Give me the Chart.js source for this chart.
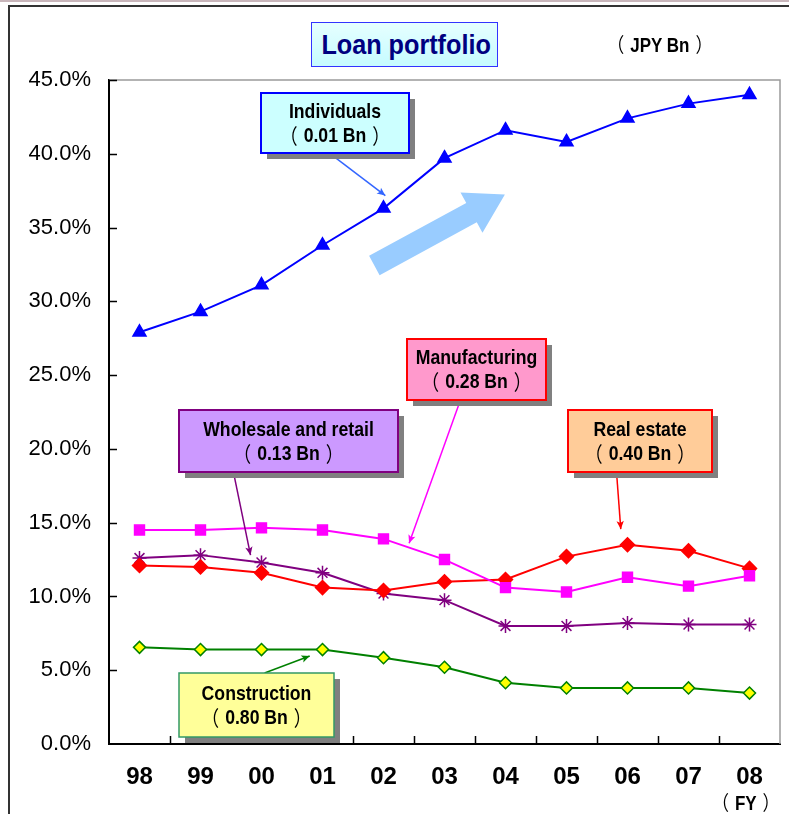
<!DOCTYPE html>
<html>
<head>
<meta charset="utf-8">
<title>Loan portfolio</title>
<script src="https://cdn.jsdelivr.net/npm/chart.js@4/dist/chart.umd.min.js"></script>
<style>
  html, body { margin: 0; padding: 0; background: #ffffff; }
  #wrap { position: relative; width: 789px; height: 814px; overflow: hidden; }
  #topline { position: absolute; left: 0; top: 0; width: 789px; height: 2px; background: #c9b6bb; }
  #frame { position: absolute; left: 8px; top: 5px; width: 800px; height: 820px;
           border-top: 2px solid #333333; border-left: 2px solid #333333; }
  #chart { position: absolute; left: 0; top: 0; }
  .txt { position: absolute; font-family: "Liberation Sans", Arial, "Noto Sans CJK JP", sans-serif;
         font-weight: bold; white-space: nowrap; }
  .squeeze { display: inline-block; transform-origin: center center; }
  .po, .pc { font-family: "Noto Sans CJK JP", sans-serif; font-weight: normal; }
  .po { margin-left: -6px; margin-right: 7px; }
  .pc { margin-left: 7px; margin-right: -6px; }
  #title { left: 311px; top: 22px; width: 185px; height: 43px; line-height: 43px; text-align: center;
           font-size: 28px; color: #000080; border: 1.5px solid #3333ff;
           background: linear-gradient(to bottom, #e6ffff, #c6fbff); }
  #title .squeeze { transform: scaleX(0.9); }
  #unit { left: 600px; top: 31px; width: 120px; height: 26px; line-height: 26px; text-align: center; font-size: 20px; color: #000; }
  #unit .squeeze { transform: scaleX(0.85); }
  #fy { left: 706px; top: 789px; width: 80px; height: 26px; line-height: 26px; text-align: center; font-size: 20px; color: #000; }
  #fy .squeeze { transform: scaleX(0.85); }
</style>
</head>
<body>
<div id="wrap">
  <div id="topline"></div>
  <div id="frame"></div>
  <canvas id="chart" width="789" height="814"></canvas>
  <div class="txt" id="title"><span class="squeeze">Loan portfolio</span></div>
  <div class="txt" id="unit"><span class="squeeze"><span class="po">（</span>JPY Bn<span class="pc">）</span></span></div>
  <div class="txt" id="fy"><span class="squeeze"><span class="po">（</span>FY<span class="pc">）</span></span></div>
</div>
<script>
// Fiscal years on the category axis
const years = ['98', '99', '00', '01', '02', '03', '04', '05', '06', '07', '08'];

// Share of the loan portfolio by borrower type (%)
const individuals     = [27.9, 29.3, 31.1, 33.8, 36.3, 39.7, 41.6, 40.8, 42.4, 43.4, 44.0];
const manufacturing   = [14.5, 14.5, 14.65, 14.5, 13.9, 12.5, 10.6, 10.3, 11.3, 10.7, 11.4];
const realEstate      = [12.1, 12.0, 11.6, 10.6, 10.4, 11.0, 11.15, 12.7, 13.5, 13.1, 11.9];
const wholesaleRetail = [12.6, 12.8, 12.3, 11.6, 10.2, 9.75, 8.0, 8.0, 8.2, 8.1, 8.1];
const construction    = [6.55, 6.4, 6.4, 6.4, 5.85, 5.2, 4.15, 3.8, 3.8, 3.8, 3.45];

// Value axis range
const yMin = 0, yMax = 45, yStep = 5;

// Callout box texts
const calloutLines = {
  individuals:   ['Individuals', '（0.01 Bn）'],
  manufacturing: ['Manufacturing', '（0.28 Bn）'],
  wholesale:     ['Wholesale and retail', '（0.13 Bn）'],
  realEstate:    ['Real estate', '（0.40 Bn）'],
  construction:  ['Construction', '（0.80 Bn）']
};

const SANS = '"Liberation Sans", Arial, "Noto Sans CJK JP", sans-serif';
const CJK = '"Noto Sans CJK JP", sans-serif';

// Callouts anchored in data space (category index, %), sizes in px
const callouts = [
  { lines: calloutLines.individuals, cx: 3.21, cy: 42.11, w: 148, h: 60, fill: '#ccffff', stroke: '#0000ff', lw: 2,
    arrow: { from: [3.21, 39.74], to: [4.03, 37.17], color: '#3366ff' } },
  { lines: calloutLines.manufacturing, cx: 5.53, cy: 25.36, w: 139, h: 61, fill: '#ff99cc', stroke: '#ff0000', lw: 2,
    arrow: { from: [5.26, 23.29], to: [4.42, 13.61], color: '#ff00ff' } },
  { lines: calloutLines.wholesale, cx: 2.44, cy: 20.51, w: 219, h: 62, fill: '#cc99ff', stroke: '#800080', lw: 2,
    arrow: { from: [1.54, 18.42], to: [1.82, 12.80], color: '#800080' } },
  { lines: calloutLines.realEstate, cx: 8.21, cy: 20.51, w: 144, h: 62, fill: '#ffcc99', stroke: '#ff0000', lw: 2,
    arrow: { from: [7.82, 18.42], to: [7.89, 14.56], color: '#ff0000' } },
  { lines: calloutLines.construction, cx: 1.92, cy: 2.64, w: 155, h: 64, fill: '#ffff99', stroke: '#339966', lw: 1.5,
    arrow: { from: [2.05, 4.81], to: [2.79, 5.96], color: '#008000' } }
];

// Broad trend arrow beside the individuals line
const trendArrow = { from: [3.85, 32.43], to: [5.99, 37.24], color: '#99ccff' };

function drawArrowLine(ctx, x1, y1, x2, y2, color) {
  const ang = Math.atan2(y2 - y1, x2 - x1);
  const head = 9, spread = 0.42;
  ctx.save();
  ctx.strokeStyle = color;
  ctx.lineWidth = 1.5;
  ctx.beginPath();
  ctx.moveTo(x1, y1);
  ctx.lineTo(x2, y2);
  ctx.stroke();
  ctx.fillStyle = color;
  ctx.beginPath();
  ctx.moveTo(x2, y2);
  ctx.lineTo(x2 - head * Math.cos(ang - spread), y2 - head * Math.sin(ang - spread));
  ctx.lineTo(x2 - head * 0.7 * Math.cos(ang), y2 - head * 0.7 * Math.sin(ang));
  ctx.lineTo(x2 - head * Math.cos(ang + spread), y2 - head * Math.sin(ang + spread));
  ctx.closePath();
  ctx.fill();
  ctx.restore();
}

// Centered text with a horizontal squeeze for a narrow gothic look;
// full-width brackets are set in the CJK face with a little room around the enclosed text
function squeezedText(ctx, text, x, y, sx, size) {
  ctx.save();
  ctx.translate(x, y);
  ctx.scale(sx, 1);
  ctx.textBaseline = 'middle';
  ctx.font = 'bold ' + size + 'px ' + SANS;
  if (text.startsWith('（') && text.endsWith('）')) {
    const inner = text.slice(1, -1);
    const half = ctx.measureText(inner).width / 2;
    const gap = 7;
    ctx.textAlign = 'center';
    ctx.fillText(inner, 0, 0);
    ctx.font = size + 'px ' + CJK;
    const pw = ctx.measureText('（').width;
    ctx.textAlign = 'left';
    ctx.fillText('（', -half - pw - gap, 0);
    ctx.fillText('）', half + gap, 0);
  } else {
    ctx.textAlign = 'center';
    ctx.fillText(text, 0, 0);
  }
  ctx.restore();
}

const decorations = {
  id: 'decorations',
  beforeDatasetsDraw(chart) {
    const { ctx, chartArea: a, scales: { x, y } } = chart;
    ctx.save();
    // light frame on the top and right of the plot area
    ctx.strokeStyle = '#9a9a9a';
    ctx.lineWidth = 1.5;
    ctx.beginPath();
    ctx.moveTo(a.left, a.top);
    ctx.lineTo(a.right, a.top);
    ctx.lineTo(a.right, a.bottom);
    ctx.stroke();
    // inward tick marks
    ctx.strokeStyle = '#000000';
    ctx.lineWidth = 1.5;
    ctx.beginPath();
    for (let v = yMin + yStep; v <= yMax; v += yStep) {
      const py = Math.round(y.getPixelForValue(v)) + 0.5;
      ctx.moveTo(a.left, py);
      ctx.lineTo(a.left + 8, py);
    }
    for (let i = 0; i < years.length - 1; i++) {
      const px = Math.round((x.getPixelForValue(i) + x.getPixelForValue(i + 1)) / 2) + 0.5;
      ctx.moveTo(px, a.bottom);
      ctx.lineTo(px, a.bottom - 8);
    }
    ctx.stroke();
    ctx.restore();
  },
  afterDatasetsDraw(chart) {
    const { ctx, scales: { x, y } } = chart;
    const P = (pt) => [x.getPixelForValue(pt[0]), y.getPixelForValue(pt[1])];

    // trend arrow
    {
      const [x1, y1] = P(trendArrow.from);
      const [x2, y2] = P(trendArrow.to);
      const ang = Math.atan2(y2 - y1, x2 - x1);
      const len = Math.hypot(x2 - x1, y2 - y1);
      const shaft = 11, headLen = 38, headHalf = 23;
      ctx.save();
      ctx.translate(x1, y1);
      ctx.rotate(ang);
      ctx.fillStyle = trendArrow.color;
      ctx.beginPath();
      ctx.moveTo(0, -shaft);
      ctx.lineTo(len - headLen, -shaft);
      ctx.lineTo(len - headLen, -headHalf);
      ctx.lineTo(len, 0);
      ctx.lineTo(len - headLen, headHalf);
      ctx.lineTo(len - headLen, shaft);
      ctx.lineTo(0, shaft);
      ctx.closePath();
      ctx.fill();
      ctx.restore();
    }

    // callouts
    callouts.forEach(c => {
      const [a1, b1] = P(c.arrow.from);
      const [a2, b2] = P(c.arrow.to);
      drawArrowLine(ctx, a1, b1, a2, b2, c.arrow.color);

      const [cx, cy] = P([c.cx, c.cy]);
      const left = Math.round(cx - c.w / 2), top = Math.round(cy - c.h / 2);
      ctx.save();
      ctx.fillStyle = '#808080';
      ctx.fillRect(left + 6, top + 6, c.w, c.h);
      ctx.fillStyle = c.fill;
      ctx.fillRect(left, top, c.w, c.h);
      ctx.strokeStyle = c.stroke;
      ctx.lineWidth = c.lw;
      ctx.strokeRect(left, top, c.w, c.h);
      ctx.fillStyle = '#000000';
      squeezedText(ctx, c.lines[0], left + c.w / 2, top + c.h / 2 - 11, 0.84, 21);
      squeezedText(ctx, c.lines[1], left + c.w / 2, top + c.h / 2 + 13, 0.84, 21);
      ctx.restore();
    });
  }
};

const common = { borderWidth: 2, pointBorderWidth: 1.5, tension: 0, clip: false };

new Chart(document.getElementById('chart'), {
  type: 'line',
  data: {
    labels: years,
    datasets: [
      { ...common, label: 'Individuals', data: individuals, borderColor: '#0000ff',
        pointStyle: 'triangle', pointRadius: 7.5, pointBackgroundColor: '#0000ff', pointBorderColor: '#0000ff' },
      { ...common, label: 'Manufacturing', data: manufacturing, borderColor: '#ff00ff',
        pointStyle: 'rect', pointRadius: 7, pointBackgroundColor: '#ff00ff', pointBorderColor: '#ff00ff' },
      { ...common, label: 'Real estate', data: realEstate, borderColor: '#ff0000',
        pointStyle: 'rectRot', pointRadius: 7, pointBackgroundColor: '#ff0000', pointBorderColor: '#ff0000' },
      { ...common, label: 'Wholesale and retail', data: wholesaleRetail, borderColor: '#800080',
        pointStyle: 'star', pointRadius: 7, pointBackgroundColor: '#800080', pointBorderColor: '#800080', pointBorderWidth: 1.5 },
      { ...common, label: 'Construction', data: construction, borderColor: '#008000',
        pointStyle: 'rectRot', pointRadius: 6, pointBackgroundColor: '#ffff00', pointBorderColor: '#008000' }
    ]
  },
  options: {
    responsive: false,
    animation: false,
    devicePixelRatio: 1,
    layout: { padding: { top: 80, right: 3, bottom: 0, left: 0 } },
    plugins: { legend: { display: false }, tooltip: { enabled: false }, title: { display: false } },
    scales: {
      x: {
        offset: true,
        grid: { display: false, drawTicks: false },
        border: { display: true, color: '#000000', width: 2 },
        ticks: { color: '#000000', padding: 19, maxRotation: 0,
                 font: { family: SANS, size: 24, weight: 'bold' } },
        afterFit(scale) { scale.height = 70; }
      },
      y: {
        min: yMin, max: yMax,
        grid: { display: false, drawTicks: false },
        border: { display: true, color: '#000000', width: 2 },
        ticks: { stepSize: yStep, color: '#000000', padding: 18,
                 font: { family: SANS, size: 22 },
                 callback: v => v.toFixed(1) + '%' },
        afterFit(scale) { scale.width = 109; }
      }
    }
  },
  plugins: [decorations]
});
</script>
</body>
</html>
